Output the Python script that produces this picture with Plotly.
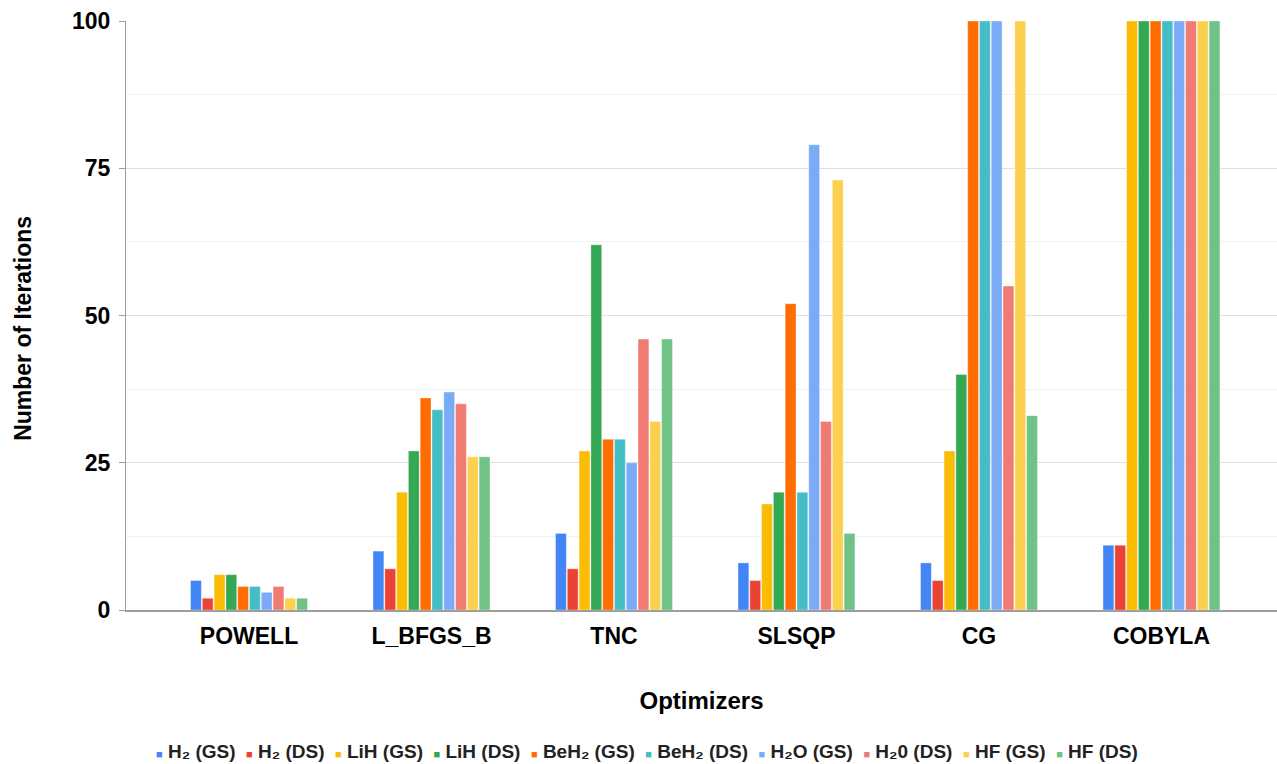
import plotly.graph_objects as go

optimizers = ["POWELL", "L_BFGS_B", "TNC", "SLSQP", "CG", "COBYLA"]

series_names = ["H₂ (GS)", "H₂ (DS)", "LiH (GS)", "LiH (DS)", "BeH₂ (GS)",
                "BeH₂ (DS)", "H₂O (GS)", "H₂0 (DS)", "HF (GS)", "HF (DS)"]

h2_gs = [5, 10, 13, 8, 8, 11]
h2_ds = [2, 7, 7, 5, 5, 11]
lih_gs = [6, 20, 27, 18, 27, 100]
lih_ds = [6, 27, 62, 20, 40, 100]
beh2_gs = [4, 36, 29, 52, 100, 100]
beh2_ds = [4, 34, 29, 20, 100, 100]
h2o_gs = [3, 37, 25, 79, 100, 100]
h2o_ds = [4, 35, 46, 32, 55, 100]
hf_gs = [2, 26, 32, 73, 100, 100]
hf_ds = [2, 26, 46, 13, 33, 100]

series_values = [h2_gs, h2_ds, lih_gs, lih_ds, beh2_gs,
                 beh2_ds, h2o_gs, h2o_ds, hf_gs, hf_ds]

colors = ["#4285F4", "#EA4335", "#FBBC04", "#34A853", "#FF6D01",
          "#46BDC6", "#7BAAF7", "#F07B72", "#FCD04F", "#71C287"]

font_family = "Liberation Sans, Arial, sans-serif"

fig = go.Figure()
for name, vals, col in zip(series_names, series_values, colors):
    fig.add_trace(go.Bar(
        x=optimizers, y=vals, name=name,
        marker=dict(color=col, line=dict(color="rgba(255,255,255,0.6)", width=0.6)),
    ))

# compact legend row: small coloured squares followed by bold series names
legend_text = "  ".join(
    f"<span style='color:{col};font-size:11px'>■</span> {name}"
    for name, col in zip(series_names, colors)
)
fig.add_annotation(
    text=f"<b>{legend_text}</b>", showarrow=False,
    xref="paper", yref="paper", x=0.453, y=-0.241,
    xanchor="center", yanchor="middle",
    font=dict(size=19, family=font_family, color="#222222"),
)

# vertical axis title
fig.add_annotation(
    text="<b>Number of Iterations</b>", showarrow=False, textangle=-90,
    xref="paper", yref="paper", x=-0.0895, y=0.479,
    xanchor="center", yanchor="middle",
    font=dict(size=23, family=font_family, color="#000000"),
)

fig.update_layout(
    width=1277, height=764,
    margin=dict(l=126, r=0, t=21, b=154, autoexpand=False),
    paper_bgcolor="white", plot_bgcolor="white",
    barmode="group", bargap=0.354, bargroupgap=0.08,
    font=dict(family=font_family, color="#000000"),
    showlegend=False,
    xaxis=dict(
        range=[-0.674, 5.633], automargin=False,
        showgrid=False, showline=True, linecolor="#9e9e9e", linewidth=2,
        ticks="", ticklabelstandoff=4,
        tickfont=dict(size=23, family=font_family, color="#000000", weight="bold"),
        title=dict(text="<b>Optimizers</b>", font=dict(size=24, color="#000000"), standoff=45),
    ),
    yaxis=dict(
        range=[0, 100], tickvals=[0, 25, 50, 75, 100], automargin=False,
        showgrid=True, gridcolor="#e0e0e0", gridwidth=1,
        minor=dict(dtick=12.5, showgrid=True, gridcolor="#f0f0f0", gridwidth=1),
        showline=True, linecolor="#9e9e9e", linewidth=1,
        ticks="outside", ticklen=6, tickcolor="#9e9e9e",
        ticklabelstandoff=4,
        tickfont=dict(size=23, family=font_family, color="#000000", weight="bold"),
        zeroline=False,
    ),
)

fig.write_html("out.html")
